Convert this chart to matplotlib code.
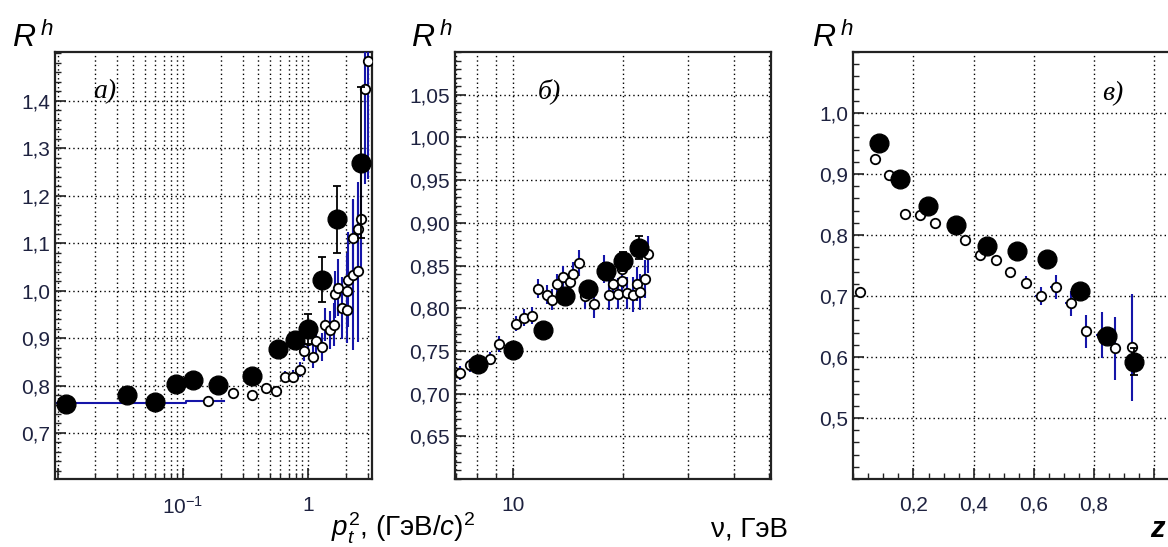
"""
plot.py - ratio R^h vs p_t^2, nu and z (three panels)
"""

import matplotlib
matplotlib.use("Agg")
import matplotlib.pyplot as plt
from matplotlib.ticker import FixedLocator, FuncFormatter, MultipleLocator, NullFormatter
import numpy as np

plt.rcParams["font.family"] = ["Liberation Sans", "DejaVu Sans"]
plt.rcParams["mathtext.fontset"] = "custom"
plt.rcParams["mathtext.rm"] = "Liberation Sans"
plt.rcParams["mathtext.it"] = "Liberation Sans:italic"
plt.rcParams["mathtext.bf"] = "Liberation Sans:bold"

# ── Data ────────────────────────────────────────
# panel a) : p_t^2
full_a_x = [0.0116, 0.0355, 0.0597, 0.0875, 0.121, 0.192, 0.359, 0.578, 0.787, 1.0, 1.30, 1.71, 2.65]
full_a_y = [0.761, 0.780, 0.766, 0.803, 0.812, 0.801, 0.820, 0.878, 0.895, 0.919, 1.023, 1.150, 1.270]
full_a_e = [0.004, 0.004, 0.004, 0.005, 0.005, 0.006, 0.007, 0.010, 0.015, 0.032, 0.047, 0.071, 0.16]

open_a_x = [0.159, 0.25, 0.359, 0.459, 0.555, 0.655, 0.763, 0.863, 0.929, 1.0, 1.09, 1.17,
            1.29, 1.37, 1.5, 1.6, 1.64, 1.75, 1.86, 2.04, 2.04, 2.10, 2.31, 2.53, 2.31, 2.53,
            2.65, 2.86, 3.04]
open_a_y = [0.768, 0.784, 0.780, 0.794, 0.789, 0.819, 0.819, 0.833, 0.872, 0.897, 0.861, 0.893,
            0.881, 0.928, 0.918, 0.928, 0.992, 1.006, 0.964, 0.960, 0.999, 1.023, 1.034, 1.041,
            1.112, 1.129, 1.150, 1.425, 1.485]
open_a_e = [0.004, 0.005, 0.006, 0.007, 0.008, 0.012, 0.014, 0.016, 0.020, 0.022, 0.025, 0.028,
            0.030, 0.035, 0.040, 0.045, 0.050, 0.060, 0.065, 0.070, 0.080, 0.100, 0.160, 0.150,
            0.080, 0.100, 0.120, 0.200, 0.250]

line_a_x = [0.0095, 0.105, 0.215]
line_a_y = [0.764, 0.767, 0.767]

# panel б) : nu, GeV
full_b_x = [8.03, 10.04, 12.07, 13.9, 16.07, 18.0, 19.94, 22.08]
full_b_y = [0.735, 0.751, 0.775, 0.814, 0.822, 0.843, 0.855, 0.871]
full_b_e = [0.005, 0.006, 0.006, 0.007, 0.008, 0.010, 0.011, 0.013]

open_b_x = [7.18, 7.65, 8.67, 9.19, 10.2, 10.7, 11.3, 11.7, 12.4, 12.8, 13.2, 13.7, 14.3, 14.6,
            15.2, 15.7, 16.7, 17.7, 18.3, 18.8, 19.4, 19.8, 19.8, 20.5, 21.3, 21.8, 22.3, 22.9, 23.4]
open_b_y = [0.724, 0.733, 0.741, 0.758, 0.782, 0.789, 0.791, 0.823, 0.816, 0.810, 0.828, 0.836,
            0.831, 0.840, 0.853, 0.814, 0.805, 0.846, 0.815, 0.828, 0.817, 0.832, 0.846, 0.818,
            0.816, 0.828, 0.819, 0.834, 0.863]
open_b_e = [0.008, 0.008, 0.008, 0.009, 0.009, 0.010, 0.010, 0.011, 0.011, 0.012, 0.012, 0.013,
            0.013, 0.014, 0.015, 0.015, 0.016, 0.016, 0.017, 0.017, 0.018, 0.018, 0.019, 0.019,
            0.020, 0.020, 0.021, 0.022, 0.022]

# panel в) : z
full_c_x = [0.087, 0.154, 0.248, 0.342, 0.444, 0.544, 0.643, 0.754, 0.843, 0.933]
full_c_y = [0.951, 0.892, 0.848, 0.816, 0.782, 0.774, 0.761, 0.708, 0.634, 0.592]
full_c_e = [0.004, 0.004, 0.004, 0.004, 0.005, 0.005, 0.006, 0.008, 0.012, 0.022]

open_c_x = [0.023, 0.073, 0.120, 0.172, 0.222, 0.272, 0.372, 0.422, 0.474, 0.521, 0.574, 0.623,
            0.673, 0.723, 0.773, 0.826, 0.870, 0.926]
open_c_y = [0.706, 0.924, 0.899, 0.835, 0.832, 0.820, 0.792, 0.767, 0.759, 0.740, 0.722, 0.700,
            0.715, 0.688, 0.642, 0.636, 0.614, 0.616]
open_c_e = [0.003, 0.003, 0.003, 0.004, 0.004, 0.004, 0.005, 0.005, 0.006, 0.007, 0.010, 0.014,
            0.020, 0.020, 0.027, 0.038, 0.052, 0.088]

# labelled tick values
ticks_a_y = [0.7, 0.8, 0.9, 1.0, 1.1, 1.2, 1.3, 1.4]
ticks_b_y = [0.65, 0.70, 0.75, 0.80, 0.85, 0.90, 0.95, 1.00, 1.05]
ticks_c_y = [0.5, 0.6, 0.7, 0.8, 0.9, 1.0]
ticks_c_x = [0.2, 0.4, 0.6, 0.8, 1.0]
# ────────────────────────────────────────────────

BLUE = "#1515a8"
TXT = "#1e2240"
GRID = dict(color="black", linestyle=(0, (1, 2.2)), linewidth=1.0)


def comma(fmt):
    return FuncFormatter(lambda v, p: fmt.format(v).replace(".", ","))


def draw(ax, ox, oy, oe, fx, fy, fe, oxerr=None):
    ax.errorbar(ox, oy, yerr=oe, xerr=oxerr, fmt="o", ms=6.8, mfc="white", mec="black",
                mew=1.3, ecolor=BLUE, elinewidth=1.5, capsize=0, zorder=3)
    ax.errorbar(fx, fy, yerr=fe, fmt="o", ms=13.5, mfc="black", mec="black",
                ecolor="black", elinewidth=1.3, capsize=3, capthick=1.3, zorder=4)


def style(ax):
    for s in ax.spines.values():
        s.set_linewidth(1.6)
        s.set_color("#222222")
    ax.tick_params(which="both", direction="in", top=False, right=False,
                   labelsize=15, labelcolor=TXT, color="#222222")
    ax.tick_params(which="major", length=8, width=1.2)
    ax.tick_params(which="minor", length=4.5, width=1.0)
    ax.tick_params(axis="x", pad=12)
    ax.set_axisbelow(True)


fig = plt.figure(figsize=(11.68, 5.47), dpi=100)
W, H = 1168.0, 547.0
bot, hgt = 1 - 479 / H, 427 / H
ax_a = fig.add_axes([55 / W, bot, 317 / W, hgt])
ax_b = fig.add_axes([455 / W, bot, 316 / W, hgt])
ax_c = fig.add_axes([853.3 / W, bot, 316 / W, hgt])

# ── panel a ──
ax_a.set_xscale("log")
ax_a.plot(line_a_x, line_a_y, drawstyle="steps-post", color=BLUE, lw=1.5, zorder=2)
draw(ax_a, open_a_x, open_a_y, open_a_e, full_a_x, full_a_y, full_a_e)
ax_a.xaxis.set_major_locator(FixedLocator([0.01, 0.1, 1]))
ax_a.xaxis.set_major_formatter(FuncFormatter(
    lambda v, p: {0.1: r"$10^{-1}$", 1.0: "1"}.get(round(v, 3), "")))
minors = [m * d for d in (0.01, 0.1, 1) for m in range(2, 10)]
ax_a.xaxis.set_minor_locator(FixedLocator(minors))
ax_a.xaxis.set_minor_formatter(NullFormatter())
ax_a.yaxis.set_major_locator(FixedLocator(ticks_a_y))
ax_a.yaxis.set_minor_locator(MultipleLocator(0.02))
ax_a.yaxis.set_major_formatter(comma("{:.1f}"))
ax_a.grid(True, which="both", axis="x", **GRID)
ax_a.grid(True, which="major", axis="y", **GRID)
style(ax_a)
ax_a.set_xlim(0.0095, 3.25)
ax_a.set_ylim(0.603, 1.503)

# ── panel b ──
ax_b.set_xscale("log")
draw(ax_b, open_b_x, open_b_y, open_b_e, full_b_x, full_b_y, full_b_e)
ax_b.xaxis.set_major_locator(FixedLocator([10]))
ax_b.xaxis.set_major_formatter(FuncFormatter(lambda v, p: "10"))
ax_b.xaxis.set_minor_locator(FixedLocator([7, 8, 9, 20, 30, 40, 50]))
ax_b.xaxis.set_minor_formatter(NullFormatter())
ax_b.yaxis.set_major_locator(FixedLocator(ticks_b_y))
ax_b.yaxis.set_minor_locator(MultipleLocator(0.01))
ax_b.yaxis.set_major_formatter(comma("{:.2f}"))
ax_b.grid(True, which="both", axis="x", **GRID)
ax_b.grid(True, which="major", axis="y", **GRID)
style(ax_b)
ax_b.set_xlim(6.96, 50.6)
ax_b.set_ylim(0.60, 1.10)

# ── panel c ──
xerr_c = [0.018] * len(open_c_x)
draw(ax_c, open_c_x, open_c_y, open_c_e, full_c_x, full_c_y, full_c_e, oxerr=xerr_c)
ax_c.xaxis.set_major_locator(FixedLocator(ticks_c_x))
ax_c.xaxis.set_major_formatter(FuncFormatter(
    lambda v, p: "" if v > 0.95 else f"{v:.1f}".replace(".", ",")))
ax_c.xaxis.set_minor_locator(MultipleLocator(0.05))
ax_c.yaxis.set_major_locator(FixedLocator(ticks_c_y))
ax_c.yaxis.set_minor_locator(MultipleLocator(0.02))
ax_c.yaxis.set_major_formatter(comma("{:.1f}"))
ax_c.grid(True, which="major", **GRID)
style(ax_c)
ax_c.set_xlim(0.0, 1.05)
ax_c.set_ylim(0.40, 1.10)

# panel tags
tag_font = dict(family="Liberation Serif", style="italic", fontsize=20, color="black")
ax_a.text(0.12, 0.892, "а)", transform=ax_a.transAxes, va="baseline", **tag_font)
ax_b.text(0.263, 0.892, "б)", transform=ax_b.transAxes, va="baseline", **tag_font)
ax_c.text(0.786, 0.8875, "в)", transform=ax_c.transAxes, va="baseline", **tag_font)

# axis titles
for xl in (12, 411, 811.7):
    fig.text(xl / W, 1 - 47 / H, r"$R^{\,h}$", fontsize=23, color="black", va="baseline")
fig.text(475 / W, 1 - 537 / H, r"$p_t^2$, (ГэВ/$c$)$^2$", fontsize=20, ha="right",
         va="baseline", color="black")
fig.text(788 / W, 1 - 537 / H, "ν, ГэВ", fontsize=20, ha="right", va="baseline", color="black")
fig.text(1165 / W, 1 - 537 / H, "z", fontsize=21, ha="right", va="baseline",
         style="italic", weight="bold", color="black")

fig.savefig("out.png", dpi=100)
